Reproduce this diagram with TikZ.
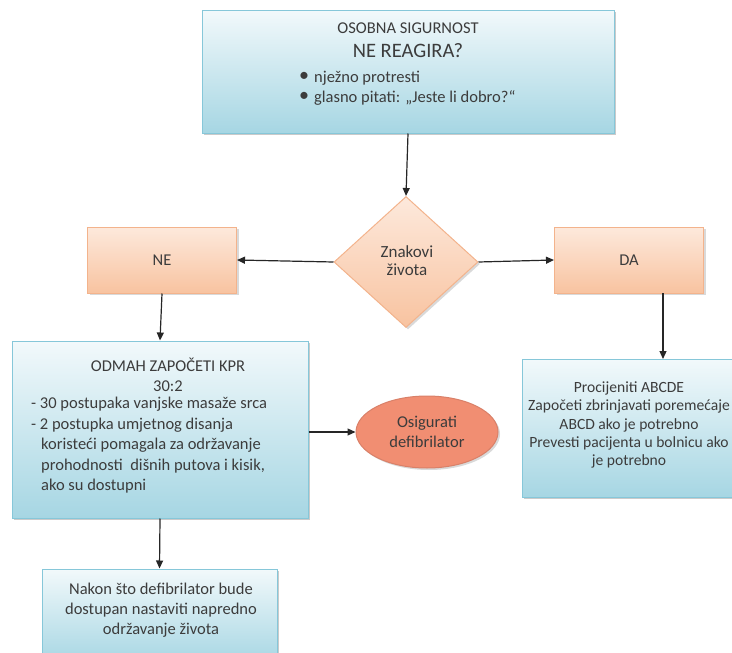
\documentclass[tikz,border=0pt]{standalone}
\usepackage{fontspec}
\setmainfont{Carlito}
\usetikzlibrary{arrows.meta,shapes.geometric,shadows}
\definecolor{txtc}{HTML}{3C3C3C}
\definecolor{bluetop}{HTML}{F2F9FB}
\definecolor{bluebot}{HTML}{A6D6E3}
\definecolor{blueline}{HTML}{86C7D9}
\definecolor{ortop}{HTML}{FDE9DC}
\definecolor{orbot}{HTML}{F8C3A0}
\definecolor{orline}{HTML}{F3B38C}
\definecolor{ellfill}{HTML}{F18E72}
\definecolor{elline}{HTML}{D98068}
\tikzset{
  bluebox/.style={draw=blueline, line width=1pt, shading=axis, top color=bluetop, bottom color=bluebot,
    drop shadow={shadow xshift=2pt, shadow yshift=-2pt, opacity=0.35, fill=black!60}, inner sep=0pt},
  orbox/.style={draw=orline, line width=1pt, shading=axis, top color=ortop, bottom color=orbot,
    drop shadow={shadow xshift=2pt, shadow yshift=-2pt, opacity=0.3, fill=black!50}, inner sep=0pt},
  txt/.style={text=txtc, font=\fontsize{16.5}{20.5}\selectfont, inner sep=0pt},
  arr/.style={draw=black!85, line width=1.2pt, -{Triangle[length=8pt,width=7pt]}}
}
\newcommand{\bigbul}{\raisebox{1pt}{\fontsize{20}{20}\selectfont\textbullet}}
\begin{document}
\begin{tikzpicture}[x=1pt,y=-1pt]
\useasboundingbox (0,0) rectangle (732,653);
% boxes
\node[bluebox, minimum width=412pt, minimum height=123pt] (top) at (408,71.5) {};
\node[orbox, diamond, minimum width=144pt, minimum height=131pt, aspect=1.1] (dia) at (406,262) {};
\node[orbox, minimum width=149pt, minimum height=66pt] (ne) at (162,260) {};
\node[orbox, minimum width=149pt, minimum height=66pt] (da) at (629,260) {};
\node[bluebox, minimum width=296pt, minimum height=177pt] (kpr) at (160,429.5) {};
\node[draw=elline, line width=1pt, fill=ellfill, ellipse, minimum width=142pt, minimum height=72pt,
  drop shadow={shadow xshift=2pt, shadow yshift=-2pt, opacity=0.3, fill=black!50}] (def) at (427,432) {};
\node[bluebox, minimum width=212pt, minimum height=138pt] (abc) at (628,428) {};
\node[bluebox, minimum width=235pt, minimum height=95pt] (nak) at (159.5,616.5) {};
% texts
\node[txt] (t1) at (408,28) {OSOBNA SIGURNOST};
\node[txt, font=\fontsize{20.5}{24}\selectfont] (t2) at (408,51) {NE REAGIRA?};
\node[txt, anchor=west] (t3) at (299,78) {\bigbul\hspace{5pt}nježno protresti};
\node[txt, anchor=west] (t4) at (299,98) {\bigbul\hspace{5pt}glasno pitati: „Jeste li dobro?“};
\node[txt, align=center, font=\fontsize{17}{18}\selectfont] (t5) at (407,261) {Znakovi\\života};
\node[txt] (t6) at (162,260) {NE};
\node[txt] (t7) at (629,260) {DA};
\node[txt, align=center] (t8) at (168,375) {ODMAH ZAPOČETI KPR\\30:2};
\node[txt, align=left, anchor=north west] (t9) at (31,397) {- 30 postupaka vanjske masaže srca\\- 2 postupka umjetnog disanja\\\hspace{10pt}koristeći pomagala za održavanje\\\hspace{10pt}prohodnosti\ \ dišnih putova i kisik,\\\hspace{10pt}ako su dostupni};
\node[txt, align=center] (t10) at (427,432) {Osigurati\\defibrilator};
\node[txt, align=center, font=\fontsize{15.6}{18.3}\selectfont] (t11) at (629,425) {Procijeniti ABCDE\\Započeti zbrinjavati poremećaje\\ABCD ako je potrebno\\Prevesti pacijenta u bolnicu ako\\je potrebno};
\node[txt, align=center, font=\fontsize{16.5}{20}\selectfont] (t12) at (161,610) {Nakon što defibrilator bude\\dostupan nastaviti napredno\\održavanje života};
% connectors
\coordinate (dafrom) at (663,293);
\coordinate (daend) at (663,359);
\draw[arr] (top.south) -- (dia.north);
\draw[arr] (dia.west) -- (ne.east);
\draw[arr] (dia.east) -- (da.west);
\draw[arr] (ne.south) -- (kpr.north);
\draw[arr] (dafrom) -- (daend);
\draw[arr] (kpr.east |- def.west) -- (def.west);
\draw[arr] (kpr.south) -- (nak.north);
\end{tikzpicture}
\end{document}
